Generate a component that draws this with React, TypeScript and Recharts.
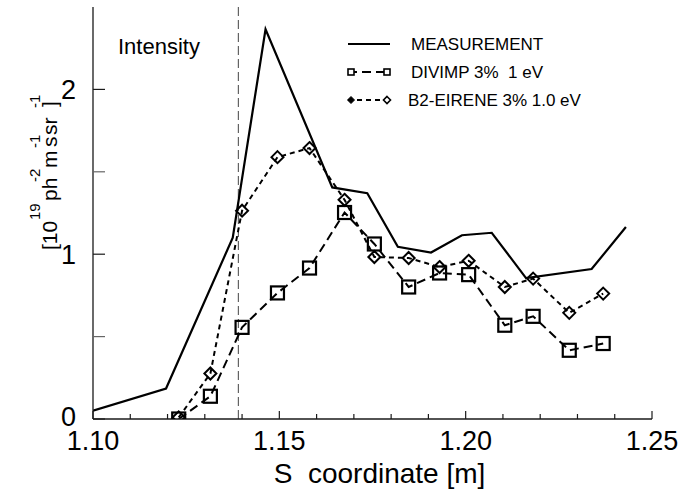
import React from 'react';
import { LineChart, Line, XAxis, YAxis, ReferenceLine, Legend } from 'recharts';

// ---- data ----
const measS = [1.1, 1.1196, 1.1375, 1.1463, 1.1642, 1.1736, 1.1818, 1.1907, 1.199, 1.207, 1.2162, 1.2338, 1.243];
const measI = [0.05, 0.185, 1.1, 2.365, 1.405, 1.37, 1.045, 1.01, 1.115, 1.13, 0.855, 0.91, 1.165];
const modelS = [1.123, 1.1315, 1.14, 1.1495, 1.1581, 1.1675, 1.1755, 1.1847, 1.193, 1.2008, 1.2105, 1.2181, 1.2278, 1.2369];
const divimpI = [0.0, 0.138, 0.556, 0.765, 0.916, 1.253, 1.062, 0.801, 0.886, 0.876, 0.569, 0.623, 0.417, 0.458];
const b2I = [0.01, 0.276, 1.264, 1.589, 1.644, 1.33, 0.983, 0.977, 0.922, 0.96, 0.801, 0.852, 0.644, 0.761];

const seriesNames = ['MEASUREMENT', 'DIVIMP 3%  1 eV', 'B2-EIRENE 3% 1.0 eV'];
const xTicks = [1.1, 1.11, 1.12, 1.13, 1.14, 1.15, 1.16, 1.17, 1.18, 1.19, 1.2, 1.21, 1.22, 1.23, 1.24, 1.25];
const xMajor = [1.1, 1.15, 1.2, 1.25];
const xTopTicks = [1.15, 1.2];
const yTicks = [0, 0.5, 1, 1.5, 2];
const yLabels = [0, 1, 2];
const xDomain = [1.1, 1.25];
const yDomain = [0, 2.5];
const separatrixS = 1.139;
const xTitle = 'S  coordinate [m]';
const panelTitle = 'Intensity';

const measData = measS.map((s, i) => ({ s, v: measI[i] }));
const divimpData = modelS.map((s, i) => ({ s, v: divimpI[i] }));
const b2Data = modelS.map((s, i) => ({ s, v: b2I[i] }));

const FONT = "'Liberation Sans', Arial, Helvetica, sans-serif";
const AXIS = { stroke: '#1a1a1a', strokeWidth: 1.3 };
const near = (a: number, b: number) => Math.abs(a - b) < 1e-6;

const XTick = (p: any) => {
  const v = p.payload.value;
  const major = xMajor.some((m) => near(m, v));
  const axisY = p.y - 12;
  return (
    <g>
      <line x1={p.x} x2={p.x} y1={axisY} y2={axisY - (major ? 8 : 5)} stroke="#1a1a1a" strokeWidth={1.2} />
      {major && (
        <text x={p.x} y={p.y} dy="0.71em" textAnchor="middle" fontSize={27} fontFamily={FONT} fill="#000">
          {v.toFixed(2)}
        </text>
      )}
    </g>
  );
};

const TopTick = (p: any) => (
  <line x1={p.x} x2={p.x} y1={p.y} y2={p.y + 8} stroke="#1a1a1a" strokeWidth={1.2} />
);

const YTick = (p: any) => {
  const v = p.payload.value;
  const lab = yLabels.some((m) => near(m, v));
  const axisX = p.x + 17;
  return (
    <g>
      <line x1={axisX} x2={axisX + 12} y1={p.y} y2={p.y} stroke={lab ? '#1a1a1a' : '#666'} strokeWidth={1.2} />
      {lab && (
        <text x={p.x} y={p.y - (v === 0 ? 3 : 0)} dy="0.36em" textAnchor="end" fontSize={27} fontFamily={FONT} fill="#000">
          {String(v)}
        </text>
      )}
    </g>
  );
};

const RightTick = (p: any) => (
  <line x1={p.x} x2={p.x - 10} y1={p.y} y2={p.y} stroke="#555" strokeWidth={1.2} />
);

const SquareDot = (p: any) => (
  <rect key={`sq-${p.index}`} x={p.cx - 6.5} y={p.cy - 6.5} width={13} height={13} fill="none" stroke="#000" strokeWidth={2.2} />
);

const DiamondDot = (p: any) => (
  <polygon
    key={`dm-${p.index}`}
    points={`${p.cx},${p.cy - 6} ${p.cx + 6},${p.cy} ${p.cx},${p.cy + 6} ${p.cx - 6},${p.cy}`}
    fill="none"
    stroke="#000"
    strokeWidth={2}
  />
);

const YTitle = () => (
  <g fontFamily={FONT} fill="#000">
    <g transform="translate(57, 250) rotate(-90)">
      <text fontSize={21}>
        <tspan x={0} y={0}>[10</tspan>
        <tspan x={49} y={0}>ph</tspan>
        <tspan x={82} y={0}>m</tspan>
        <tspan x={103} y={0}>s</tspan>
        <tspan x={115} y={0}>sr</tspan>
        <tspan x={143} y={0}>]</tspan>
      </text>
      <text fontSize={15}>
        <tspan x={30} y={-17}>19</tspan>
        <tspan x={68} y={-17}>-2</tspan>
        <tspan x={102} y={-17}>-1</tspan>
        <tspan x={142} y={-17}>-1</tspan>
      </text>
    </g>
    <text x={118} y={54} fontSize={22}>{panelTitle}</text>
  </g>
);

const XTitle = (p: any) => {
  const vb = p.viewBox || { x: 93, width: 559 };
  return (
    <text x={vb.x + vb.width / 2 + 7} y={483} textAnchor="middle" fontSize={28} fontFamily={FONT} fill="#000" style={{ whiteSpace: 'pre' }}>
      {xTitle}
    </text>
  );
};

const LegendContent = () => {
  const rows = [14, 42, 70];
  return (
    <svg width={320} height={85} style={{ display: 'block', overflow: 'visible' }} fontFamily={FONT}>
      <line x1={8} x2={50} y1={rows[0]} y2={rows[0]} stroke="#000" strokeWidth={2.2} />
      <line x1={8} x2={50} y1={rows[1]} y2={rows[1]} stroke="#000" strokeWidth={2} strokeDasharray="9 5" />
      <rect x={8} y={rows[1] - 3} width={6} height={6} fill="#fff" stroke="#000" strokeWidth={1.6} />
      <rect x={44} y={rows[1] - 3} width={6} height={6} fill="#fff" stroke="#000" strokeWidth={1.6} />
      <line x1={8} x2={50} y1={rows[2]} y2={rows[2]} stroke="#000" strokeWidth={2} strokeDasharray="5 4" />
      <polygon points={`11,${rows[2] - 3.5} 14.5,${rows[2]} 11,${rows[2] + 3.5} 7.5,${rows[2]}`} fill="#000" stroke="#000" strokeWidth={1} />
      <polygon points={`47,${rows[2] - 3.5} 50.5,${rows[2]} 47,${rows[2] + 3.5} 43.5,${rows[2]}`} fill="#fff" stroke="#000" strokeWidth={1.6} />
      {seriesNames.map((n, i) => (
        <text key={n} x={i === 2 ? 68 : 71} y={rows[i] + 6} fontSize={17} fill="#000" style={{ whiteSpace: 'pre' }}>
          {n}
        </text>
      ))}
    </svg>
  );
};

export default function App() {
  return (
    <div style={{ position: 'absolute', left: 0, top: 0, width: 691, height: 491, background: '#fff' }}>
      <LineChart width={691} height={491} margin={{ top: 7, right: 39, bottom: 0, left: 0 }} style={{ fontFamily: FONT }}>
        <XAxis
          type="number"
          dataKey="s"
          domain={xDomain}
          ticks={xTicks}
          interval={0}
          allowDataOverflow
          height={72}
          tickSize={0}
          tickMargin={12}
          tickLine={false}
          tick={XTick}
          axisLine={AXIS}
          label={XTitle}
        />
        <XAxis
          xAxisId="top"
          orientation="top"
          type="number"
          domain={xDomain}
          ticks={xTopTicks}
          interval={0}
          allowDataOverflow
          height={0}
          tickSize={0}
          tickMargin={0}
          tickLine={false}
          tick={TopTick}
          axisLine={AXIS}
        />
        <YAxis
          type="number"
          domain={yDomain}
          ticks={yTicks}
          interval={0}
          allowDataOverflow
          width={93}
          tickSize={0}
          tickMargin={17}
          tickLine={false}
          tick={YTick}
          axisLine={AXIS}
          label={YTitle}
        />
        <YAxis
          yAxisId="right"
          orientation="right"
          type="number"
          domain={yDomain}
          ticks={yTicks}
          interval={0}
          allowDataOverflow
          width={0}
          tickSize={0}
          tickMargin={0}
          tickLine={false}
          tick={RightTick}
          axisLine={AXIS}
        />
        <ReferenceLine x={separatrixS} stroke="#444" strokeWidth={1} strokeDasharray="9 4" />
        <Legend layout="vertical" align="center" verticalAlign="middle" wrapperStyle={{ left: 340, top: 30, width: 320, height: 85 }} content={LegendContent} />
        <Line data={measData} dataKey="v" name={seriesNames[0]} stroke="#000" strokeWidth={2.2} dot={false} isAnimationActive={false} />
        <Line data={divimpData} dataKey="v" name={seriesNames[1]} stroke="#000" strokeWidth={2} strokeDasharray="9 5" dot={SquareDot} isAnimationActive={false} />
        <Line data={b2Data} dataKey="v" name={seriesNames[2]} stroke="#000" strokeWidth={2} strokeDasharray="5 4" dot={DiamondDot} isAnimationActive={false} />
      </LineChart>
    </div>
  );
}
